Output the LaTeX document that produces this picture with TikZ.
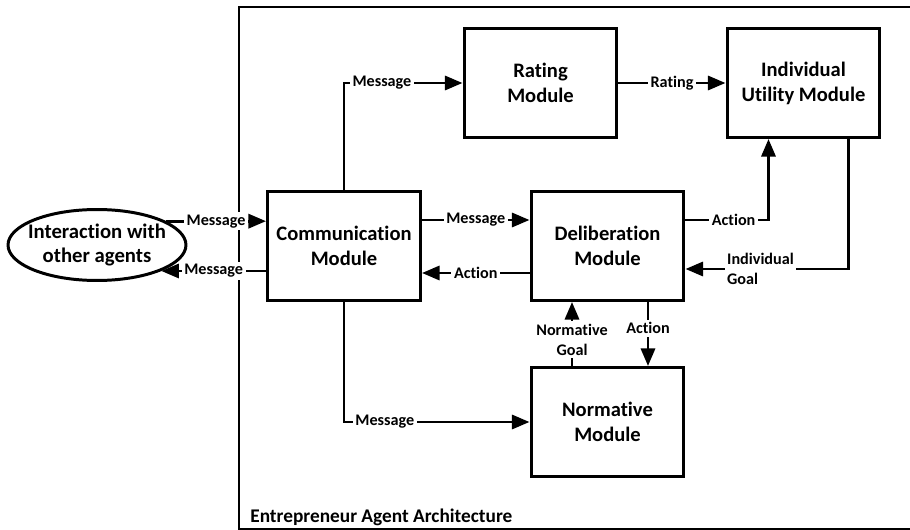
\documentclass[tikz,border=0pt]{standalone}
\usepackage{fontspec}
\setmainfont{Carlito}[Ligatures={NoCommon,NoRequired,NoContextual}]
\usetikzlibrary{arrows.meta,shapes.geometric,calc}
\begin{document}
\begin{tikzpicture}[x=0.02cm,y=-0.02cm,line width=1.7pt,
    module/.style={draw,minimum width=3.06cm,minimum height=2.18cm,align=center,font=\bfseries\fontsize{11.7}{14.2}\selectfont},
    lbl/.style={fill=white,inner sep=1.5pt,align=center,font=\bfseries\fontsize{9.2}{11.3}\selectfont},
    arr/.style={-{Triangle[length=10pt,width=8pt]}}]
        \useasboundingbox(0,0) rectangle(910,530);
        \draw(239,7) rectangle(915,529);
        \node[module](rate) at(540.5,83){Rating\\Module};
        \node[module](util) at(803.5,83){Individual\\Utility Module};
        \node[module](comm) at(344,246){Communication\\Module};
        \node[module](delib) at(607.5,246){Deliberation\\Module};
        \node[module](norm) at(607.5,422){Normative\\Module};
        \node[draw,ellipse,minimum width=3.56cm,minimum height=1.42cm](inter) at(97,245){};
        \node[align=center,font=\bfseries\fontsize{11.8}{14.2}\selectfont](intertext) at(inter){Interaction with\\other agents};
        \node[anchor=west,font=\bfseries\fontsize{11}{13}\selectfont](title) at(243,517){Entrepreneur Agent Architecture};
        \draw[arr](inter.19)--(inter.19 -| comm.west)node[lbl,midway]{Message};
        \draw[arr](inter.-22 -| comm.west)--(inter.-22)node[lbl,midway]{Message};
        \draw[arr](comm.north)|-(rate.west)node[lbl,pos=0.66]{Message};
        \draw[arr](rate)--(util)node[lbl,midway]{Rating};
        \draw[arr]($(comm.east)+(0,-26)$)--($(delib.west)+(0,-26)$)node[lbl,midway]{Message};
        \draw[arr]($(delib.west)+(0,27)$)--($(comm.east)+(0,27)$)node[lbl,midway]{Action};
        \draw[arr]($(delib.east)+(0,-26)$)-|($(util.south)+(-35,0)$)node[lbl,pos=0.29]{Action};
        \draw[arr]($(util.south)+(45,0)$)|-($(delib.east)+(0,23)$)node[lbl,pos=0.77,align=left]{Individual\\Goal};
        \draw[arr]($(norm.north)+(-35.5,0)$)--($(delib.south)+(-35.5,0)$)node[lbl,pos=0.41]{Normative\\Goal};
        \draw[arr]($(delib.south)+(40.5,0)$)--($(norm.north)+(40.5,0)$)node[lbl,pos=0.41]{Action};
        \draw[arr](comm.south)|-(norm.west)node[lbl,pos=0.61]{Message};
    \end{tikzpicture}
\end{document}
